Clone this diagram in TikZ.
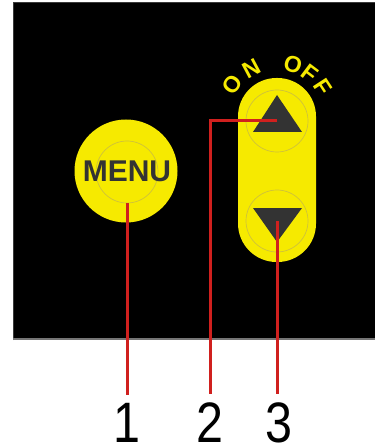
\documentclass[tikz,border=0pt]{standalone}
\usepackage{fontspec}
\setmainfont{Liberation Sans}
\setsansfont{Liberation Sans}
\usepackage{tikz}
\usetikzlibrary{arrows.meta,positioning,calc}
\definecolor{kbyellow}{HTML}{F6EA00}
\definecolor{kbring}{HTML}{CFC23A}
\definecolor{kbglyph}{HTML}{333333}
\definecolor{kbred}{HTML}{D0201E}
\definecolor{kbedge}{HTML}{3A3A3A}

\begin{document}
\begin{tikzpicture}[
  x=1pt, y=1pt,
  font=\sffamily,
  knob/.style={circle, fill=kbyellow, inner sep=0pt},
  ring/.style={circle, draw=kbring, line width=0.7pt, inner sep=0pt, minimum size=62pt},
  keytext/.style={font=\fontsize{30}{30}\selectfont\bfseries, text=kbglyph, inner sep=0pt},
  arctag/.style={font=\fontsize{23}{23}\selectfont\bfseries, text=kbyellow, inner sep=0pt},
  lead/.style={kbred, line width=3pt},
  digit/.style={font=\fontsize{57}{57}\selectfont, text=black, inner sep=0pt, anchor=base},
]
\useasboundingbox (0,0) rectangle (374,-443);

% ---------------- panel --------------------------------------------
\fill[black] (13,-2) rectangle (380,-339);
\draw[kbedge, line width=1.2pt] (13.6,-340) -- (13.6,-2.6) -- (380,-2.6);
\draw[kbedge!70, line width=1.4pt] (13,-339) -- (380,-339);

% ---------------- menu key -----------------------------------------
\node[knob, minimum size=103pt] (menu) at (126,-171) {};
\node[ring] (menuring) at (127,-172) {};
\node[keytext] (menulbl) at (127,-171) {MENU};

% ---------------- rocker -------------------------------------------
\node[fill=kbyellow, minimum width=78pt, minimum height=184pt,
      rounded corners=38.5pt, inner sep=0pt] (rocker) at (277,-170) {};
\node[ring] (upring) at (277,-121) {};
\node[ring] (downring) at (277,-221) {};
\fill[kbglyph] (253,-132) -- (277,-95) -- (302,-132) -- cycle;
\fill[kbglyph] (253,-208) -- (277,-242) -- (302,-208) -- cycle;

\coordinate (arcc) at (277,-117);
\foreach \ch/\ang in {O/144,N/118,O/73,F/53,F/33}
  \node[arctag, rotate=\ang-90] at ($(arcc)+(\ang:55)$) {\ch};

% ---------------- numbers ------------------------------------------
\node[digit] (n1) at (127,-442) {\scalebox{0.85}[1]{1}};
\node[digit] (n2) at (210,-442) {\scalebox{0.85}[1]{2}};
\node[digit] (n3) at (279,-442) {\scalebox{0.85}[1]{3}};

\draw[lead, shorten >=8pt] (menuring.south) -- (n1.north);
\draw[lead, shorten >=8pt] (upring.center) -| (n2.north);
\draw[lead, shorten >=8pt] (downring.center) -- (downring.center |- n3.north);

\end{tikzpicture}
\end{document}
